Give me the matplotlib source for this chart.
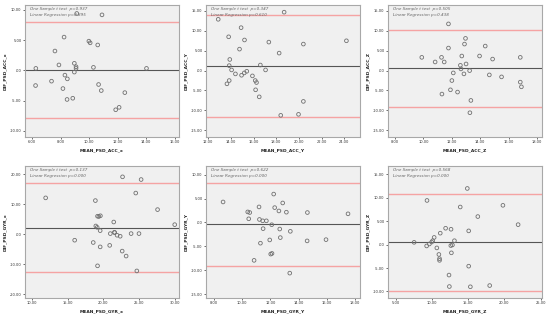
# Bland-Altman style plots, PSD of ACC and GYR axes
import matplotlib
matplotlib.use('Agg')
import matplotlib.pyplot as plt
from matplotlib.ticker import FuncFormatter

# ---- data ----
acc_x_mean = [6.24, 6.26, 7.36, 7.6, 7.88, 8.24, 8.16, 8.3, 8.47, 8.45, 8.85, 8.96, 8.96, 9.08,
              9.08, 9.13, 9.98, 10.07, 10.3, 10.6, 10.66, 10.85, 10.9, 11.86, 12.1, 12.5, 14.02]
acc_x_dif = [-2.5, 0.33, -1.78, 3.2, 0.9, 5.5, -3.0, -0.78, -1.4, -4.8, -4.6, 1.17, -0.28, 0.6,
             0.33, 9.4, 4.83, 4.55, 0.5, 4.2, -2.33, -3.33, 9.17, -6.5, -6.1, -3.67, 0.33]

acc_y_mean = [12.88, 18.7, 13.8, 14.9, 15.2, 14.76, 13.9, 13.85, 14.06, 14.4, 13.85, 13.65, 14.94,
              15.18, 15.4, 15.9, 16.15, 16.26, 16.18, 16.5, 16.6, 17.06, 17.35, 18.26, 18.4,
              19.97, 20.4, 20.4, 24.2]
acc_y_dif = [12.9, 14.7, 8.5, 10.8, 7.7, 5.4, 2.8, 1.25, 0.17, -0.83, -2.5, -3.33, -1.17,
             -0.58, -0.17, -1.33, -2.5, -3.0, -4.83, -6.6, 1.4, 0.17, 7.17, 4.4, -11.25,
             -11.0, 6.67, -7.75, 7.5]

acc_z_mean = [11.76, 9.88, 10.82, 11.27, 11.46, 11.76, 12.96, 12.89, 12.7, 13.0, 12.6, 12.64,
              13.25, 12.1, 12.85, 12.0, 11.9, 12.4, 11.3, 13.34, 13.27, 13.95, 14.35, 14.87,
              14.64, 15.5, 16.82, 16.82, 16.9]
acc_z_dif = [11.75, 3.33, 2.17, 3.33, 2.17, 5.67, 8.1, 6.67, 3.67, 1.67, 1.33, 0.42, 0.0,
             -0.58, -0.83, -2.5, -4.83, -5.4, -5.9, -7.5, -10.6, 3.67, 6.17, 2.9, -1.08,
             -1.58, 3.33, -2.9, -4.08]

gyr_x_mean = [11.94, 18.9, 22.7, 25.3, 24.55, 27.6, 30.0, 19.2, 19.6, 19.38, 21.47, 18.96,
              19.15, 19.57, 20.99, 21.56, 21.6, 21.94, 22.37, 23.9, 25.0, 16.0, 18.6, 19.57,
              20.9, 22.65, 23.2, 19.2, 24.7]
gyr_x_dif = [12.1, 11.2, 19.1, 18.2, 13.7, 8.2, 3.2, 6.0, 6.15, 5.9, 4.07, 2.75, 2.3, 1.2,
             0.22, 0.66, 0.55, -0.33, -0.66, 0.22, 0.22, -1.98, -2.75, -4.2, -3.7, -5.6,
             -7.25, -10.5, -12.2]

gyr_y_mean = [8.64, 10.39, 10.53, 10.46, 11.19, 11.22, 11.45, 11.71, 11.48, 11.29, 10.84,
              12.23, 12.3, 12.87, 12.6, 13.13, 12.09, 12.66, 13.41, 11.95, 12.7, 12.11, 12.02,
              13.37, 14.62, 14.6, 15.94, 17.5]
gyr_y_dif = [4.28, 2.2, 2.07, 0.76, 3.24, 0.62, 0.34, 0.34, -1.3, -4.34, -7.93, 5.93, 3.1,
             4.07, 2.4, 2.14, -0.48, -1.38, -1.86, -3.66, -3.17, -6.48, -6.62, -10.6, 2.07,
             -3.86, -3.6, 1.8]

gyr_z_mean = [7.53, 9.31, 9.26, 9.64, 9.96, 10.1, 10.3, 10.67, 10.95, 11.04, 11.04, 11.14,
              11.88, 12.35, 12.4, 12.63, 12.6, 12.82, 12.68, 13.1, 13.9, 14.88, 15.07, 15.07,
              15.3, 16.33, 17.97, 19.8, 21.9]
gyr_z_dif = [0.49, 9.44, -0.28, 0.14, 0.56, 0.84, 1.54, -0.7, -2.1, -3.0, -3.36, 2.45, 3.5,
             -6.5, -8.95, 3.29, -0.2, -0.07, -1.75, 0.84, 8.04, 12.0, 2.94, -4.6, -9.0, 6.0,
             -8.74, 8.4, 4.27]

names = ['ACC_x', 'ACC_Y', 'ACC_Z', 'GYR_x', 'GYR_Y', 'GYR_Z']
means = [acc_x_mean, acc_y_mean, acc_z_mean, gyr_x_mean, gyr_y_mean, gyr_z_mean]
difs = [acc_x_dif, acc_y_dif, acc_z_dif, gyr_x_dif, gyr_y_dif, gyr_z_dif]
p_ttest = ['0.937', '0.347', '0.505', '0.137', '0.622', '0.568']
p_reg = ['0.895', '0.610', '0.438', '0.000', '0.000', '0.000']
mean_dif = [0.0, 1.08, 0.67, 2.2, -0.34, 0.56]
upper_loa = [7.94, 14.1, 10.25, 17.0, 8.3, 10.8]
lower_loa = [-7.8, -11.6, -9.17, -12.7, -9.1, -9.9]

xlims = [(5.5, 16.3), (11.8, 25.4), (7.5, 18.35), (9.05, 30.6), (7.43, 18.35), (3.92, 25.2)]
ylims = [(-11, 10.8), (-16.7, 16.5), (-16.7, 16.5), (-21.2, 22.7), (-15.8, 11.8), (-11.4, 16.8)]
xticks = [range(6, 17, 2), range(12, 25, 2), range(8, 19, 2), range(10, 31, 5), range(8, 19, 2), range(5, 26, 5)]
yticks = [range(-10, 11, 5), range(-15, 16, 5), range(-15, 16, 5), range(-20, 21, 10), range(-15, 11, 5), range(-10, 16, 5)]


def spss_fmt(v, pos):
    s = '%.2f' % v
    if s in ('0.00', '-0.00'):
        return '.00'
    return s


fig = plt.figure(figsize=(5.5, 3.2), dpi=100)
W, H = 550.0, 320.0
lefts = [25, 206, 388]
tops = [5, 166]
pw, ph = 154, 132

for i in range(6):
    r, c = divmod(i, 3)
    ax = fig.add_axes([lefts[c] / W, 1 - (tops[r] + ph) / H, pw / W, ph / H])
    ax.set_facecolor('#f0f0f0')
    for s in ax.spines.values():
        s.set_color('#a8a8a8')
        s.set_linewidth(0.8)

    ax.axhline(upper_loa[i], color='#f5a3a3', lw=1.0)
    ax.axhline(lower_loa[i], color='#f5a3a3', lw=1.0)
    ax.axhline(mean_dif[i], color='#555555', lw=0.8)
    ax.scatter(means[i], difs[i], s=7, facecolors='none', edgecolors='#707070', linewidths=0.6, zorder=3)

    ax.set_xlim(*xlims[i])
    ax.set_ylim(*ylims[i])
    ax.set_xticks(list(xticks[i]))
    ax.set_yticks(list(yticks[i]))
    ax.xaxis.set_major_formatter(FuncFormatter(spss_fmt))
    ax.yaxis.set_major_formatter(FuncFormatter(spss_fmt))
    ax.tick_params(labelsize=2.6, length=1.5, width=0.5, pad=1, colors='#333333')

    ax.set_xlabel('MEAN_PSD_' + names[i], fontsize=3.2, fontweight='bold', labelpad=3, color='#222222')
    ax.set_ylabel('DIF_PSD_' + names[i], fontsize=3.2, fontweight='bold', labelpad=2, color='#222222')

    ax.text(0.03, 0.985, 'One Sample t test  p=' + p_ttest[i] + '\nLinear Regression p=' + p_reg[i],
            transform=ax.transAxes, ha='left', va='top', fontsize=3.0, style='italic',
            color='#666666', linespacing=1.6)

fig.savefig('out.png', dpi=100)
